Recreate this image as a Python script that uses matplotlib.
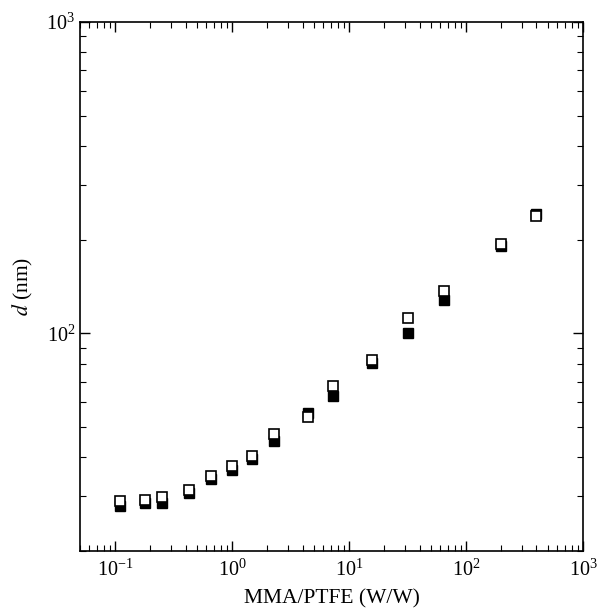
import matplotlib
matplotlib.use("Agg")
import matplotlib.pyplot as plt
from matplotlib.ticker import LogLocator, NullFormatter

plt.rcParams['font.family'] = ['Liberation Serif', 'DejaVu Serif']
plt.rcParams['mathtext.fontset'] = 'stix'

ratio = [0.110, 0.180, 0.252, 0.429, 0.662, 1.0, 1.48, 2.29, 4.46, 7.30, 15.7, 31.9, 64.9, 199, 396]
d_open = [29.0, 29.2, 29.9, 31.3, 34.9, 37.6, 40.5, 47.4, 53.7, 68.0, 81.9, 111.7, 136.4, 193, 238]
d_filled = [28.0, 28.6, 28.6, 30.6, 34.0, 36.5, 39.6, 45.0, 55.3, 62.7, 80.1, 100, 127.6, 190.5, 241]

fig = plt.figure(figsize=(6.04, 6.11), dpi=100)
ax = fig.add_axes([80/604, 60/611, 503/604, 529/611])

ax.plot(ratio, d_filled, linestyle='none', marker='s', markersize=7.8,
        markerfacecolor='black', markeredgecolor='black', markeredgewidth=1.0)
ax.plot(ratio, d_open, linestyle='none', marker='s', markersize=7.8,
        markerfacecolor='white', markeredgecolor='black', markeredgewidth=1.2)

ax.set_xscale('log')
ax.set_yscale('log')
ax.set_xlim(0.05, 1000)
ax.set_ylim(20, 1000)

ax.xaxis.set_major_locator(LogLocator(base=10))
ax.xaxis.set_minor_locator(LogLocator(base=10, subs=range(2, 10)))
ax.yaxis.set_minor_locator(LogLocator(base=10, subs=range(2, 10)))
ax.xaxis.set_minor_formatter(NullFormatter())
ax.yaxis.set_minor_formatter(NullFormatter())

ax.tick_params(which='both', direction='in', top=True, right=True, labelsize=14.5)
ax.tick_params(which='major', length=7, width=1)
ax.tick_params(which='minor', length=4, width=0.8)
ax.tick_params(axis='x', which='major', pad=6)
for s in ax.spines.values():
    s.set_linewidth(1.2)

ax.set_xlabel('MMA/PTFE (W/W)', fontsize=15.5, labelpad=6)
ax.set_ylabel(r'$\mathit{d}$ (nm)', fontsize=15.5, labelpad=8)

fig.savefig('out.png', dpi=100)
